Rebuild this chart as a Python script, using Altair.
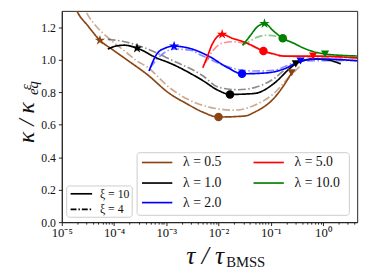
import altair as alt
import pandas as pd

# ---------------- data ----------------
lam_labels = ["λ = 0.5", "λ = 1.0", "λ = 2.0", "λ = 5.0", "λ = 10.0"]
lam_colors = ["#8b4513", "#000000", "#0000ff", "#ff0000", "#008000"]

# log10(tau/tau_BMSS) and kappa/kappa_eq for each curve
l05_x10_logtau = [-4.80, -4.72, -4.49, -4.27, -4.03, -3.75, -3.37, -2.94, -2.62, -2.30, -2.00, -1.50, -1.31, -0.94, -0.69, -0.60]
l05_x10_kappa = [1.37, 1.306, 1.204, 1.119, 1.062, 0.998, 0.910, 0.792, 0.731, 0.677, 0.647, 0.653, 0.677, 0.762, 0.871, 0.919]
l05_x4_logtau = [-4.62, -4.55, -4.40, -4.21, -4.08, -3.75, -3.56, -3.37, -2.94, -2.30, -1.69, -1.31, -0.94, -0.66, -0.43]
l05_x4_kappa = [1.37, 1.306, 1.228, 1.162, 1.125, 1.041, 0.992, 0.956, 0.828, 0.719, 0.689, 0.719, 0.792, 0.889, 0.962]

l1_x10_logtau = [-4.12, -3.97, -3.80, -3.56, -3.18, -2.94, -2.30, -2.00, -1.78, -1.31, -0.94, -0.62, -0.52, -0.19, 0.09, 0.34]
l1_x10_kappa = [1.065, 1.083, 1.089, 1.071, 1.010, 0.980, 0.871, 0.810, 0.786, 0.792, 0.853, 0.950, 0.974, 1.004, 0.998, 0.974]
l1_x4_logtau = [-4.12, -3.84, -3.56, -3.18, -2.94, -2.30, -2.00, -1.63, -1.31, -0.94, -0.66, -0.52]
l1_x4_kappa = [1.125, 1.113, 1.089, 1.041, 1.004, 0.901, 0.830, 0.815, 0.828, 0.883, 0.956, 0.980]

l2_x10_logtau = [-3.33, -3.18, -3.03, -2.85, -2.57, -2.19, -1.82, -1.55, -1.06, -0.69, -0.43, -0.06, 0.70]
l2_x10_kappa = [0.930, 1.035, 1.070, 1.083, 1.071, 1.022, 0.950, 0.913, 0.919, 0.950, 0.992, 1.004, 0.992]
l2_x4_logtau = [-3.31, -3.09, -2.85, -2.57, -2.30, -1.69, -1.31, -0.94, -0.56, -0.43, 0.70]
l2_x4_kappa = [0.950, 1.030, 1.065, 1.060, 1.022, 0.944, 0.930, 0.935, 0.980, 0.992, 0.995]

l5_x10_logtau = [-2.30, -2.21, -2.12, -1.93, -1.74, -1.55, -1.37, -1.14, -0.94, -0.75, -0.19, 0.70]
l5_x10_kappa = [0.950, 1.022, 1.095, 1.156, 1.132, 1.113, 1.089, 1.053, 1.035, 1.022, 1.022, 1.010]
l5_x4_logtau = [-2.25, -2.12, -1.93, -1.72, -1.50, -1.14, -0.75, 0.70]
l5_x4_kappa = [0.980, 1.050, 1.101, 1.110, 1.101, 1.053, 1.022, 1.010]

l10_x10_logtau = [-1.54, -1.40, -1.27, -1.12, -0.94, -0.77, -0.56, -0.37, -0.19, 0.04, 0.37, 0.70]
l10_x10_kappa = [1.089, 1.144, 1.198, 1.222, 1.174, 1.132, 1.101, 1.071, 1.050, 1.035, 1.026, 1.022]
l10_x4_logtau = [-1.54, -1.40, -1.27, -1.09, -0.90, -0.75, -0.56]
l10_x4_kappa = [1.089, 1.113, 1.137, 1.150, 1.144, 1.125, 1.101]

# markers (one per lambda, in lam_labels order)
star_logtau = [-4.27, -3.56, -2.85, -1.93, -1.12]
star_kappa = [1.119, 1.071, 1.083, 1.156, 1.222]
circle_logtau = [-2.00, -1.78, -1.55, -1.14, -0.77]
circle_kappa = [0.647, 0.786, 0.913, 1.053, 1.132]
tri_logtau = [-0.60, -0.52, -0.43, -0.19, 0.04]
tri_kappa = [0.919, 0.974, 0.992, 1.022, 1.035]

xi_labels = ["ξ = 10", "ξ = 4"]
x_decades = [-5, -4, -3, -2, -1, 0]
x_tick_text = ["10⁻⁵", "10⁻⁴", "10⁻³", "10⁻²", "10⁻¹", "10⁰"]
y_ticks = [0.0, 0.2, 0.4, 0.6, 0.8, 1.0, 1.2]

# ---------------- build tables ----------------
series = [
    ("λ = 0.5", "10", l05_x10_logtau, l05_x10_kappa),
    ("λ = 0.5", "4", l05_x4_logtau, l05_x4_kappa),
    ("λ = 1.0", "10", l1_x10_logtau, l1_x10_kappa),
    ("λ = 1.0", "4", l1_x4_logtau, l1_x4_kappa),
    ("λ = 2.0", "10", l2_x10_logtau, l2_x10_kappa),
    ("λ = 2.0", "4", l2_x4_logtau, l2_x4_kappa),
    ("λ = 5.0", "10", l5_x10_logtau, l5_x10_kappa),
    ("λ = 5.0", "4", l5_x4_logtau, l5_x4_kappa),
    ("λ = 10.0", "10", l10_x10_logtau, l10_x10_kappa),
    ("λ = 10.0", "4", l10_x4_logtau, l10_x4_kappa),
]
rows = []
for k, (lam, xi, lt, kp) in enumerate(series):
    for i, (a, b) in enumerate(zip(lt, kp)):
        rows.append({"lam": lam, "xi": xi, "tau": 10 ** a, "kappa": b, "i": i, "sid": k})
lines_df = pd.DataFrame(rows)

mrows = []
for kind, lts, kps, sz in [("star", star_logtau, star_kappa, 120),
                           ("circle", circle_logtau, circle_kappa, 75),
                           ("tri", tri_logtau, tri_kappa, 70)]:
    for lam, a, b in zip(lam_labels, lts, kps):
        mrows.append({"lam": lam, "kind": kind, "tau": 10 ** a, "kappa": b, "sz": sz})
markers_df = pd.DataFrame(mrows)

STAR = ("M0,-1L0.2245,-0.309L0.951,-0.309L0.363,0.118L0.588,0.809L0,0.382"
        "L-0.588,0.809L-0.363,0.118L-0.951,-0.309L-0.2245,-0.309Z")

SERIF = "Liberation Serif"
XMAX = 4.52
x_minor = [m * 10.0 ** e for e in x_decades for m in range(1, 10) if m * 10.0 ** e <= XMAX]

E = "round(log(datum.value)/LN10)"
is_decade = f"abs(log(datum.value)/LN10 - {E}) < 0.001"
lab = "''"
for e, t in reversed(list(zip(x_decades, x_tick_text))):
    lab = f"({E} == {e}) ? '{t}' : ({lab})"
label_expr = f"({is_decade}) ? ({lab}) : ''"

color_scale = alt.Scale(domain=lam_labels, range=lam_colors)
x_enc = alt.X("tau:Q",
              scale=alt.Scale(type="log", domain=[1e-5, XMAX], nice=False),
              axis=alt.Axis(values=x_minor, labelExpr=label_expr, title=None, grid=False,
                            tickSize={"condition": {"test": is_decade, "value": 3.5}, "value": 2},
                            labelOverlap=False, labelFlush=False, labelPadding=1,
                            labelFont=SERIF, labelFontSize=13, labelColor="#111",
                            tickColor="#222", domainColor="#222"))
y_enc = alt.Y("kappa:Q",
              scale=alt.Scale(domain=[0, 1.3], nice=False, zero=False),
              axis=alt.Axis(values=y_ticks, format=".1f", title=None, grid=False,
                            tickSize=3.5, labelPadding=3, labelFont=SERIF, labelFontSize=12,
                            labelOverlap=False, labelFlush=False, labelBound=False,
                            labelColor="#111", tickColor="#222", domainColor="#222"))

lines = alt.Chart(lines_df).mark_line(clip=True, strokeWidth=1.7, interpolate="monotone").encode(
    x=x_enc, y=y_enc,
    color=alt.Color("lam:N", scale=color_scale, legend=None),
    strokeDash=alt.StrokeDash("xi:N", scale=alt.Scale(domain=["10", "4"], range=[[1, 0], [8, 2.5, 1.5, 2.5]]), legend=None),
    opacity=alt.Opacity("xi:N", scale=alt.Scale(domain=["10", "4"], range=[1.0, 0.45]), legend=None),
    detail="sid:N",
    order="i:Q",
)

markers = alt.Chart(markers_df).mark_point(filled=True, opacity=1, clip=True).encode(
    x=x_enc, y=y_enc,
    color=alt.Color("lam:N", scale=color_scale, legend=None),
    shape=alt.Shape("kind:N", scale=alt.Scale(domain=["star", "circle", "tri"],
                                               range=[STAR, "circle", "triangle-down"]), legend=None),
    size=alt.Size("sz:Q", scale=None),
)

layers = [lines, markers]

# ------------- legends (drawn manually, pixel offsets in plot coords) -------------
def box(x1, x2, y1, y2):
    return alt.Chart(pd.DataFrame({"a": [0]})).mark_rect(
        fill="white", fillOpacity=0.85, stroke="#cccccc", strokeWidth=1, cornerRadius=3
    ).encode(x=alt.value(x1), x2=alt.value(x2), y=alt.value(y1), y2=alt.value(y2))

def seg(x1, x2, y, color, dash=None, opacity=1.0):
    kw = {}
    if dash:
        kw["strokeDash"] = dash
    return alt.Chart(pd.DataFrame({"a": [0]})).mark_rule(
        color=color, strokeWidth=1.7, opacity=opacity, **kw
    ).encode(x=alt.value(x1), x2=alt.value(x2), y=alt.value(y))

def txt(x, y, s, size, align="left", baseline="middle", style="normal", angle=0):
    return alt.Chart(pd.DataFrame({"a": [0]})).mark_text(
        font=SERIF, fontSize=size, align=align, baseline=baseline, fontStyle=style,
        angle=angle, color="#111"
    ).encode(x=alt.value(x), y=alt.value(y), text=alt.value(s))

layers.append(box(77, 294, 145, 209))
lam_pos = [(82, 155), (82, 176), (82, 196), (196, 155), (196, 176)]
for lab_s, col, (lx, ly) in zip(lam_labels, lam_colors, lam_pos):
    layers.append(seg(lx, lx + 31, ly, col))
    layers.append(txt(lx + 42, ly, lab_s, 14))

layers.append(box(5, 72, 179, 211))
layers.append(seg(9, 31, 187, "#000000"))
layers.append(txt(39, 187, xi_labels[0], 12))
layers.append(seg(9, 31, 203, "#000000", dash=[6, 2, 1.5, 2]))
layers.append(txt(39, 203, xi_labels[1], 12))

# axis titles
layers.append(txt(166, 259, "τ / τ", 26, align="right", baseline="alphabetic", style="italic"))
layers.append(txt(168, 262, "BMSS", 15, baseline="alphabetic"))
layers.append(txt(-28, 135, "κ / κ", 24, baseline="alphabetic", style="italic", angle=270))
layers.append(txt(-24, 86, "eq", 15, baseline="alphabetic", style="italic", angle=270))
layers.append(txt(-31, 81, "ε", 15, baseline="alphabetic", style="italic", angle=270))

chart = alt.layer(*layers).properties(
    width=302, height=216,
    autosize=alt.AutoSizeParams(type="none"),
    padding={"left": 55, "top": 0, "right": 9, "bottom": 48},
    background="white",
).configure_view(stroke="#222", strokeWidth=1)

chart.save("out.html", embed_options={"renderer": "svg", "actions": False})
